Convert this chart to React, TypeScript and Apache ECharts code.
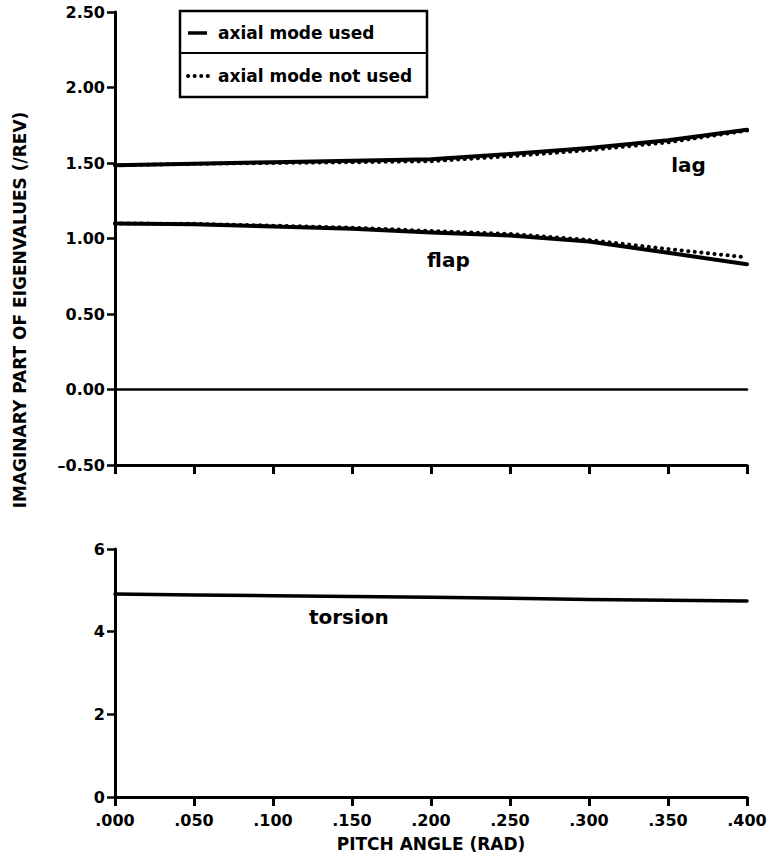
import React, { useEffect, useRef } from "react";
import * as echarts from "echarts";

// Pitch angle (rad)
const pitch = [0, 0.05, 0.1, 0.15, 0.2, 0.25, 0.3, 0.35, 0.4];

// Imaginary part of eigenvalues (/rev)
const lagUsed = [1.485, 1.495, 1.505, 1.515, 1.525, 1.56, 1.6, 1.65, 1.72];
const lagNotUsed = [1.485, 1.495, 1.5, 1.505, 1.512, 1.545, 1.585, 1.637, 1.715];
const flapUsed = [1.1, 1.095, 1.08, 1.065, 1.04, 1.02, 0.98, 0.905, 0.83];
const flapNotUsed = [1.1, 1.097, 1.085, 1.072, 1.05, 1.03, 0.99, 0.93, 0.875];
const zeroMode = [0, 0, 0, 0, 0, 0, 0, 0, 0];
const torsionUsed = [4.91, 4.89, 4.87, 4.85, 4.83, 4.81, 4.78, 4.76, 4.74];

const legendNames = ["axial mode used", "axial mode not used"];
const yAxisTitle = "IMAGINARY PART OF EIGENVALUES (/REV)";
const xAxisTitle = "PITCH ANGLE (RAD)";

// annotation texts with their data anchors [pitch, value, gridIndex]
const annoText = ["lag", "flap", "torsion"];
const annoPitch = [0.363, 0.211, 0.148];
const annoValue = [1.49, 0.86, 4.35];
const annoGrid = [0, 0, 1];

const FONT = "DejaVu Sans";

const pair = (ys: number[]) => pitch.map((p, i) => [p, ys[i]]);

export default function App() {
  const ref = useRef<HTMLDivElement>(null);
  useEffect(() => {
    if (!ref.current) return;
    const chart = echarts.init(ref.current, undefined, { renderer: "svg" });
    const axisLine = { show: true, onZero: false, lineStyle: { color: "#000", width: 3 } };
    const labelStyle = { color: "#000", fontFamily: FONT, fontWeight: "bold" as const, fontSize: 16 };
    const solid = (name: string, data: number[], xi: number, w = 4) => ({
      type: "line",
      name,
      xAxisIndex: xi,
      yAxisIndex: xi,
      data: pair(data),
      showSymbol: false,
      symbol: "none",
      lineStyle: { color: "#000", width: w, cap: "round", join: "round" },
      z: 3,
    });
    const dotted = (name: string, data: number[], xi: number) => ({
      type: "line",
      name,
      xAxisIndex: xi,
      yAxisIndex: xi,
      data: pair(data),
      showSymbol: false,
      symbol: "none",
      lineStyle: { color: "#000", width: 4, type: [0.1, 6.5], cap: "round" },
      z: 4,
    });
    chart.setOption({
      animation: false,
      backgroundColor: "#fff",
      grid: [
        { left: 115, right: 31, top: 12, height: 453 },
        { left: 115, right: 31, top: 549, height: 248 },
      ],
      xAxis: [
        {
          gridIndex: 0,
          type: "value",
          min: 0,
          max: 0.4,
          interval: 0.05,
          axisLine,
          axisTick: { show: true, length: 9, lineStyle: { color: "#000", width: 3 } },
          axisLabel: { show: false },
          splitLine: { show: false },
        },
        {
          gridIndex: 1,
          type: "value",
          min: 0,
          max: 0.4,
          interval: 0.05,
          axisLine,
          axisTick: { show: true, length: 9, lineStyle: { color: "#000", width: 3 } },
          axisLabel: {
            ...labelStyle,
            margin: 15,
            formatter: (v: number) => v.toFixed(3).replace(/^0/, ""),
          },
          splitLine: { show: false },
          name: xAxisTitle,
          nameLocation: "middle",
          nameGap: 38,
          nameTextStyle: { ...labelStyle, fontSize: 17 },
        },
      ],
      yAxis: [
        {
          gridIndex: 0,
          type: "value",
          min: -0.5,
          max: 2.5,
          interval: 0.5,
          axisLine,
          axisTick: { show: true, length: 8, lineStyle: { color: "#000", width: 2.5 } },
          axisLabel: {
            ...labelStyle,
            margin: 10,
            formatter: (v: number) => v.toFixed(2).replace("-", "\u2013"),
          },
          splitLine: { show: false },
        },
        {
          gridIndex: 1,
          type: "value",
          min: 0,
          max: 6,
          interval: 2,
          axisLine,
          axisTick: { show: true, length: 8, lineStyle: { color: "#000", width: 2.5 } },
          axisLabel: { ...labelStyle, margin: 10 },
          splitLine: { show: false },
        },
      ],
      series: [
        solid(legendNames[0], lagUsed, 0),
        dotted(legendNames[1], lagNotUsed, 0),
        solid(legendNames[0], flapUsed, 0),
        dotted(legendNames[1], flapNotUsed, 0),
        solid(legendNames[0], zeroMode, 0, 2.5),
        solid(legendNames[0], torsionUsed, 1, 3.5),
      ],
    });

    const annos = annoText.map((t, i) => {
      const p = chart.convertToPixel({ gridIndex: annoGrid[i] }, [annoPitch[i], annoValue[i]]) as number[];
      return {
        type: "text",
        x: p[0],
        y: p[1],
        style: {
          text: t,
          align: "center",
          verticalAlign: "middle",
          fill: "#000",
          font: `bold 20px "${FONT}"`,
        },
        z: 10,
      };
    });

    chart.setOption({
      graphic: [
        {
          type: "rect",
          shape: { x: 180, y: 11, width: 247, height: 86 },
          style: { fill: "#fff", stroke: "#000", lineWidth: 2.5 },
          z: 10,
        },
        {
          type: "line",
          shape: { x1: 180, y1: 53, x2: 427, y2: 53 },
          style: { stroke: "#000", lineWidth: 2 },
          z: 11,
        },
        {
          type: "line",
          shape: { x1: 188, y1: 33, x2: 207, y2: 33 },
          style: { stroke: "#000", lineWidth: 3.5 },
          z: 11,
        },
        {
          type: "line",
          shape: { x1: 188, y1: 76, x2: 208, y2: 76 },
          style: { stroke: "#000", lineWidth: 4, lineDash: [0.1, 6.5], lineCap: "round" },
          z: 11,
        },
        {
          type: "text",
          x: 218,
          y: 33,
          style: { text: legendNames[0], verticalAlign: "middle", fill: "#000", font: `bold 17px "${FONT}"` },
          z: 11,
        },
        {
          type: "text",
          x: 218,
          y: 76,
          style: { text: legendNames[1], verticalAlign: "middle", fill: "#000", font: `bold 17px "${FONT}"` },
          z: 11,
        },
        {
          type: "text",
          x: 20,
          y: 310,
          rotation: Math.PI / 2,
          style: {
            text: yAxisTitle,
            align: "center",
            verticalAlign: "middle",
            fill: "#000",
            font: `bold 17px "${FONT}"`,
          },
          z: 11,
        },
        ...annos,
      ],
    });
    return () => chart.dispose();
  }, []);
  return (
    <div
      ref={ref}
      style={{ position: "absolute", left: 0, top: 0, width: 778, height: 862, background: "#fff" }}
    />
  );
}
